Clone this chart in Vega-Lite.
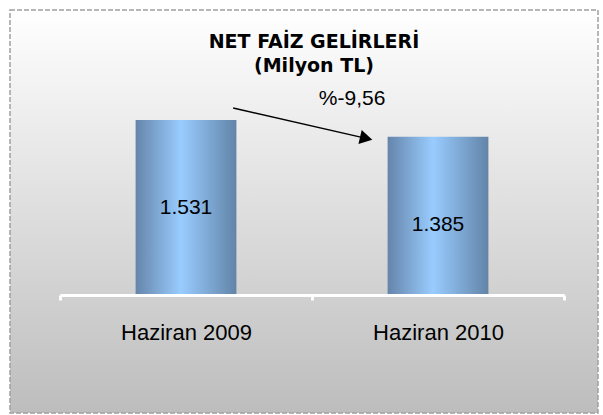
{
  "$schema": "https://vega.github.io/schema/vega-lite/v6.json",
  "width": 588,
  "height": 403,
  "autosize": {"type": "none"},
  "padding": {"left": 10, "top": 10, "right": 5, "bottom": 2},
  "background": "white",
  "config": {"view": {"stroke": null}},
  "title": {
    "text": ["NET FAİZ GELİRLERİ", "(Milyon TL)"],
    "font": "DejaVu Sans",
    "fontSize": 19,
    "fontWeight": "bold",
    "color": "#000000",
    "anchor": "middle",
    "frame": "group",
    "dx": 10,
    "offset": -67,
    "lineHeight": 24
  },
  "datasets": {
    "bars": [
      {"donem": "Haziran 2009", "deger": 1531, "etiket": "1.531"},
      {"donem": "Haziran 2010", "deger": 1385, "etiket": "1.385"}
    ],
    "ok": [
      {"x1": 0.687, "y1": 1636, "x2": 1.215, "y2": 1370}
    ],
    "degisim": [
      {"x": 1.159, "y": 1715, "metin": "%-9,56"}
    ]
  },
  "layer": [
    {
      "data": {"name": "bars"},
      "layer": [
        {
          "data": {"values": [{}]},
          "mark": {
            "type": "rect",
            "stroke": "#a0a0a0",
            "strokeWidth": 1.5,
            "strokeDash": [5, 2],
            "fill": {
              "gradient": "linear",
              "x1": 0, "y1": 0, "x2": 0, "y2": 1,
              "stops": [
                {"offset": 0, "color": "#ffffff"},
                {"offset": 1, "color": "#bdbdbd"}
              ]
            }
          },
          "encoding": {}
        },
        {
          "mark": {
            "type": "bar",
            "width": {"band": 0.4},
            "fill": {
              "gradient": "linear",
              "x1": 0, "y1": 0, "x2": 1, "y2": 0,
              "stops": [
                {"offset": 0, "color": "#6585aa"},
                {"offset": 0.45, "color": "#99ccff"},
                {"offset": 1, "color": "#6284a8"}
              ]
            }
          },
          "encoding": {
            "x": {
              "field": "donem",
              "type": "nominal",
              "sort": null,
              "title": null,
              "scale": {"type": "band", "range": [50, 554], "paddingInner": 0, "paddingOuter": 0},
              "axis": {
                "orient": "bottom",
                "offset": -118,
                "zindex": 1,
                "domainColor": "#ffffff",
                "domainWidth": 3,
                "tickColor": "#ffffff",
                "tickWidth": 3,
                "tickSize": 5,
                "tickBand": "extent",
                "tickExtra": true,
                "labelAngle": 0,
                "labelFont": "Liberation Sans",
                "labelFontSize": 22,
                "labelColor": "#000000",
                "labelBaseline": "alphabetic",
                "labelPadding": 39,
                "grid": false
              }
            },
            "y": {
              "field": "deger",
              "type": "quantitative",
              "scale": {"domain": [-1032, 2493], "nice": false, "zero": false},
              "axis": null
            },
            "y2": {"datum": 0}
          }
        },
        {
          "mark": {
            "type": "text",
            "font": "Liberation Sans",
            "fontSize": 21,
            "color": "#000000",
            "baseline": "middle",
            "align": "center",
            "dy": 88
          },
          "encoding": {
            "x": {"field": "donem", "type": "nominal", "sort": null},
            "y": {"field": "deger", "type": "quantitative"},
            "text": {"field": "etiket"}
          }
        }
      ]
    },
    {
      "layer": [
        {
          "data": {"name": "ok"},
          "mark": {"type": "rule", "color": "#000000", "strokeWidth": 1.5},
          "encoding": {
            "x": {"field": "x1", "type": "quantitative", "scale": {"domain": [0, 2], "range": [50, 554], "nice": false, "zero": false}, "axis": null},
            "x2": {"field": "x2"},
            "y": {"field": "y1", "type": "quantitative"},
            "y2": {"field": "y2"}
          }
        },
        {
          "data": {"name": "ok"},
          "mark": {"type": "point", "shape": "triangle-right", "filled": true, "color": "#000000", "opacity": 1, "size": 210, "angle": 13},
          "encoding": {
            "x": {"field": "x2", "type": "quantitative"},
            "y": {"field": "y2", "type": "quantitative"}
          }
        },
        {
          "data": {"name": "degisim"},
          "mark": {"type": "text", "font": "Liberation Sans", "fontSize": 21, "color": "#000000", "baseline": "middle", "align": "center"},
          "encoding": {
            "x": {"field": "x", "type": "quantitative"},
            "y": {"field": "y", "type": "quantitative"},
            "text": {"field": "metin"}
          }
        }
      ]
    }
  ],
  "resolve": {"scale": {"x": "independent"}}
}
